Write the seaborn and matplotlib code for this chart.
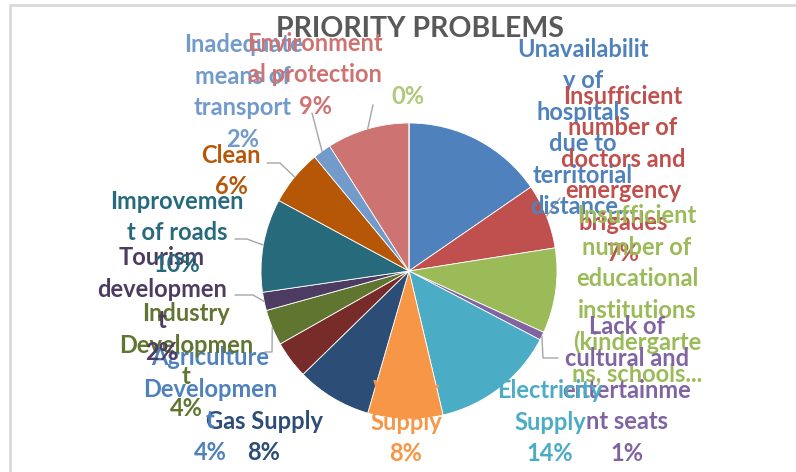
import numpy as np
import seaborn as sns
import matplotlib.pyplot as plt

# slices, clockwise from 12 o'clock
categories = [
    "Unavailability of hospitals due to territorial distance",
    "Insufficient number of doctors and emergency brigades",
    "Insufficient number of educational institutions",
    "Lack of cultural and entertainment seats",
    "Electricity Supply",
    "Water Supply",
    "Gas Supply",
    "Agriculture Development",
    "Industry Development",
    "Tourism development",
    "Improvement of roads",
    "Clean",
    "Inadequate means of transport",
    "Environmental protection",
    "",
]
shares = [15.4, 7.1, 9.3, 0.9, 13.6, 8.2, 8.2, 4.1, 3.9, 2.0, 10.2, 6.1, 2.0, 9.0, 0.0]

# label text as printed (Excel wrapped / truncated)
label_texts = [
    "Unavailabilit\ny of\nhospitals\ndue to\nterritorial\ndistance...",
    "Insufficient\nnumber of\ndoctors and\nemergency\nbrigades\n7%",
    "Insufficient\nnumber of\neducational\ninstitutions\n(kindergarte\nns, schools...",
    "Lack of\ncultural and\nentertainme\nnt seats\n1%",
    "Electricity\nSupply\n14%",
    "Water\nSupply\n8%",
    "Gas Supply\n8%",
    "Agriculture\nDevelopmen\nt\n4%",
    "Industry\nDevelopmen\nt\n4%",
    "Tourism\ndevelopmen\nt\n2%",
    "Improvemen\nt of roads\n10%",
    "Clean\n6%",
    "Inadequate\nmeans of\ntransport\n2%",
    "Environment\nal protection\n9%",
    "0%",
]

slice_colors = ["#4F81BD", "#C0504D", "#9BBB59", "#8064A2", "#4BACC6", "#F79646",
                "#2C4D75", "#772C2A", "#5F7530", "#4D3B62", "#276A7C", "#B65708",
                "#729ACA", "#CD7371", "#AFC97A"]
text_colors = ["#4F81BD", "#C0504D", "#9BBB59", "#8064A2", "#4BACC6", "#F79646",
               "#2C4D75", "#4F81BD", "#5F7530", "#4D3B62", "#276A7C", "#B65708",
               "#729ACA", "#CD7371", "#AFC97A"]

# layout: label block centres in pixels (x from left, y from top)
label_pos = [(583, 128), (623, 175), (637, 295), (627, 390), (550, 422), (406, 422),
             (264, 437), (210, 405), (186, 361), (162, 305), (177, 233), (231, 171),
             (243, 92), (315, 75), (408, 97)]
# leader lines: slice index -> outer points (px), the inner end sits on the rim
leaders = {
    1: [(560, 198)],
    3: [(558, 358), (543, 358)],
    8: [(265, 352), (272, 352)],
    9: [(235, 295), (253, 295)],
    10: [(235, 239), (247, 239)],
    11: [(267, 163), (280, 163)],
    12: [(312, 113)],
    13: [(373, 105)],
}

W, H = 796, 472
cx, cy, R = 409, 271, 148


def px(x, y):
    return x, H - y


sns.set_theme(style="white")
plt.rcParams["font.family"] = ["Lato", "DejaVu Sans"]

fig = plt.figure(figsize=(W / 100, H / 100), dpi=100)
ax = fig.add_axes([0, 0, 1, 1])

wedges, _ = ax.pie(shares, colors=slice_colors, startangle=90, counterclock=False,
                   center=px(cx, cy), radius=R,
                   wedgeprops=dict(edgecolor="white", linewidth=0.6))
ax.set_xlim(0, W)
ax.set_ylim(0, H)
ax.set_aspect("equal")
ax.axis("off")

# leader lines
for i, pts in leaders.items():
    w = wedges[i]
    mid = np.deg2rad((w.theta1 + w.theta2) / 2)
    rim = (w.center[0] + R * np.cos(mid), w.center[1] + R * np.sin(mid))
    xs = [px(*p)[0] for p in pts] + [rim[0]]
    ys = [px(*p)[1] for p in pts] + [rim[1]]
    ax.plot(xs, ys, color="#A6A6A6", lw=1, zorder=1)

for txt, col, (x, y) in zip(label_texts, text_colors, label_pos):
    ax.text(*px(x, y), txt, color=col, fontsize=17, fontweight="bold",
            ha="center", va="center", multialignment="center", linespacing=1.45,
            zorder=5)

ax.text(*px(420, 29), "PRIORITY PROBLEMS", color="#595959", fontsize=20.5,
        fontweight="bold", ha="center", va="center")

# chart area border (only top and left visible in the crop)
ax.plot([10, 10, W], [0, H - 5, H - 5], color="#D9D9D9", lw=2, zorder=0)

fig.savefig("out.png", dpi=100)
